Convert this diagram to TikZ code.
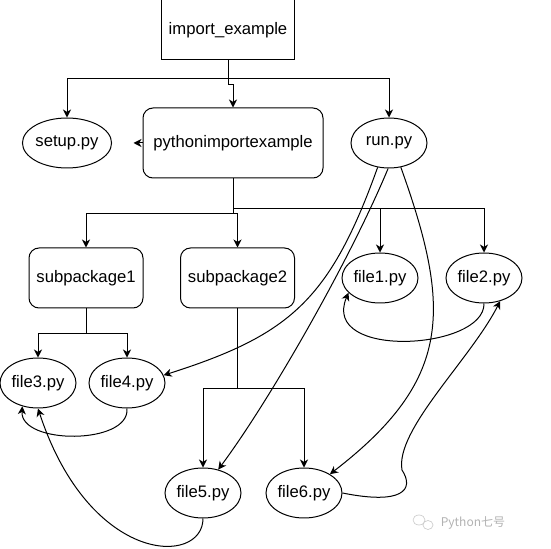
\documentclass[tikz,border=0pt]{standalone}
\usepackage{fontspec}
\setmainfont{Liberation Sans}
\newfontfamily\cjk{Noto Sans CJK SC}
\usepackage{tikz}
\usetikzlibrary{arrows.meta,shapes.geometric}

\begin{document}
\begin{tikzpicture}[x=0.75pt,y=-0.75pt,
      box/.style={rectangle,draw,line width=0.75pt,minimum width=99.75pt,minimum height=45pt,
        font=\fontsize{12.5}{15}\selectfont},
      pkgbox/.style={rectangle,rounded corners=7.5pt,draw,line width=0.75pt,minimum width=85.5pt,
        minimum height=45pt,font=\fontsize{12.5}{15}\selectfont},
      pyfile/.style={ellipse,draw,line width=0.75pt,minimum width=57pt,minimum height=37.5pt,
        inner sep=0pt,font=\fontsize{12.5}{15}\selectfont},
      >={Stealth[length=6pt,width=6pt,inset=1.8pt]},line width=0.75pt
    ]
    \useasboundingbox (0,0) rectangle (551,549);

    \node[box] (imp) at (228,30) {import\_example};
    \node[pkgbox,minimum width=135pt,minimum height=52.5pt] (pkg) at (233,143) {pythonimportexample};
    \node[pyfile] (setup) at (67,143) {setup.py};
    \node[pyfile] (run) at (389,143) {run.py};

    \node[pkgbox] (sub1) at (86,278) {subpackage1};
    \node[pkgbox] (sub2) at (237.5,278) {subpackage2};
    \node[pyfile] (file1) at (380,278) {file1.py};
    \node[pyfile] (file2) at (484,278) {file2.py};

    \node[pyfile] (file3) at (38,383) {file3.py};
    \node[pyfile] (file4) at (127,383) {file4.py};
    \node[pyfile] (file5) at (203,493) {file5.py};
    \node[pyfile] (file6) at (304,493) {file6.py};

    % tree
    \draw[->] (imp.south) -- ++(0,18) -| (setup.north);
    \draw[->] (imp.south) -- ++(0,24) -| (pkg.north);
    \draw[->] (imp.south) -- ++(0,18) -| (run.north);
    \draw[->] (pkg.west) -- ++(-9,0);

    \draw[->] (pkg.south) -- ++(0,35) -| (sub1.north);
    \draw[->] (pkg.south) -- ++(0,35) -| (sub2.north);
    \draw[->] (pkg.south) -- ++(0,30) -| (file1.north);
    \draw[->] (pkg.south) -- ++(0,30) -| (file2.north);

    \draw[->] (sub1.south) -- ++(0,25) -| (file3.north);
    \draw[->] (sub1.south) -- ++(0,25) -| (file4.north);
    \draw[->] (sub2.south) -- ++(0,80) -| (file5.north);
    \draw[->] (sub2.south) -- ++(0,80) -| (file6.north);

    % imports
    \draw[->] (run.245) .. controls (330,300) and (290,335) .. (file4.12);
    \draw[->] (run.268) .. controls (350,260) and (270,400) .. (file5.57);
    \draw[->] (run.296) .. controls (452,310) and (452,380) .. (file6.36);
    \draw[->] (file2.south) .. controls (485,350) and (320,360) .. (file1.205);
    \coordinate (bend6) at (402,470);
    \draw[->] (file6.east) .. controls (402,505) and (415,490) .. (bend6)
      .. controls (395,430) and (470,360) .. (file2.305);
    \draw[->] (file4.south) .. controls (130,445) and (20,445) .. (file3.236);
    \draw[->] (file5.south) .. controls (203,566) and (90,566) .. (file3.south);

    % watermark
    \draw[gray!40,line width=0.5pt] (419,520) ellipse (6 and 5) (428,525) ellipse (5 and 4.5);
    \node[gray!60,font=\cjk\fontsize{9}{11}\selectfont,inner sep=0pt] (mark) at (473,523) {Python七号};
  \end{tikzpicture}
\end{document}
